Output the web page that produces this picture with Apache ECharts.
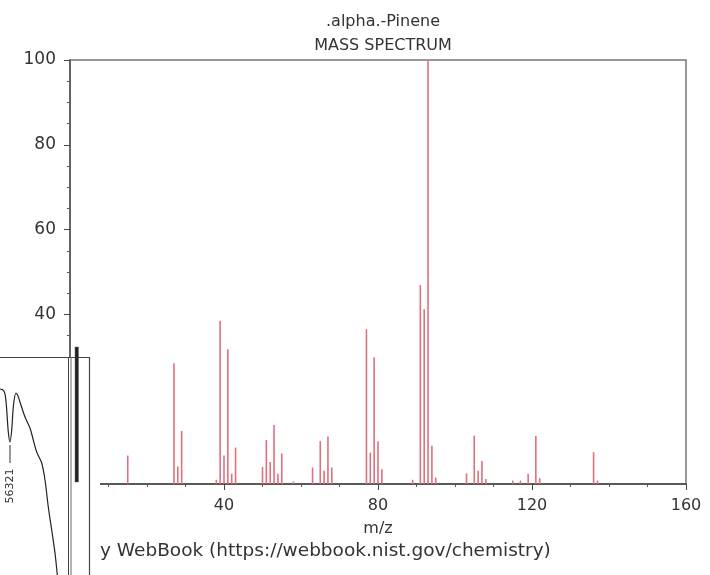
<!DOCTYPE html>
<html>
<head>
<meta charset="utf-8">
<script src="https://cdn.jsdelivr.net/npm/echarts@6/dist/echarts.min.js"></script>
<style>
html,body{margin:0;padding:0;background:#fff;}
#chart{width:710px;height:575px;}
</style>
</head>
<body>
<div id="chart"></div>
<script>
// Mass spectrum data (m/z, relative abundance)
const mz = [15,27,28,29,38,39,40,41,42,43,50,51,52,53,54,55,58,63,65,66,67,68,77,78,79,80,81,89,91,92,93,94,95,103,105,106,107,108,115,117,119,121,122,136,137];
const abundance = [6.7,28.5,4.1,12.5,1,38.5,6.7,31.8,2.4,8.6,4,10.4,5.2,13.9,2.4,7.2,0.6,3.9,10.1,3.1,11.2,3.9,36.5,7.4,29.9,10.1,3.5,1,46.9,41.2,100,9,1.5,2.5,11.4,3.1,5.4,1.2,0.8,0.8,2.4,11.3,1.4,7.5,0.8];
const xTicks = [0,40,80,120,160];
const yTicks = [0,20,40,60,80,100];

// Overlaid inset trace (arbitrary inset units)
const insetX = [0,3,5,6.5,8.3,10,11.7,13.5,16,18,20,25,30,33.3,36.7,41.7,45,48.3,51.7,55,57.3];
const insetY = [32,33,37,50,75,85,73,48,36,39,45,60,71,83,95,106,123,150,173,196,218];
const insetLabel = '56321';

const chart = echarts.init(document.getElementById('chart'));
const font = 'DejaVu Sans, sans-serif';

chart.setOption({
  animation: false,
  backgroundColor: '#fff',
  title: [
    {text: '.alpha.-Pinene', left: 378, top: 9, textAlign: 'center',
     textStyle: {fontFamily: font, fontSize: 16, fontWeight: 'normal', color: '#333'}},
    {text: 'MASS SPECTRUM', left: 378, top: 33, textAlign: 'center',
     textStyle: {fontFamily: font, fontSize: 16, fontWeight: 'normal', color: '#333'}}
  ],
  grid: [
    {left: 70, top: 60, width: 616, height: 424, show: true, borderColor: '#777', borderWidth: 1.5, backgroundColor: 'transparent'},
    {left: 0, top: 357, width: 89, height: 218, show: false}
  ],
  xAxis: [
    {type: 'value', gridIndex: 0, min: 0, max: 160, interval: 40,
     name: 'm/z', nameLocation: 'middle', nameGap: 37,
     nameTextStyle: {fontFamily: font, fontSize: 16, color: '#333'},
     axisLine: {show: true, onZero: false, lineStyle: {color: '#444', width: 1.5}},
     axisTick: {show: true, length: 6, lineStyle: {color: '#444'}},
     minorTick: {show: true, splitNumber: 4, length: 3, lineStyle: {color: '#555'}},
     splitLine: {show: false},
     axisLabel: {margin: 14, fontFamily: font, fontSize: 16, color: '#333',
       formatter: v => xTicks.includes(v) ? String(v) : ''}},
    {type: 'value', gridIndex: 1, min: 0, max: 89, show: false}
  ],
  yAxis: [
    {type: 'value', gridIndex: 0, min: 0, max: 100, interval: 20,
     axisLine: {show: true, lineStyle: {color: '#555', width: 1.5}},
     axisTick: {show: true, length: 6, lineStyle: {color: '#444'}},
     minorTick: {show: true, splitNumber: 4, length: 3, lineStyle: {color: '#555'}},
     splitLine: {show: false},
     axisLabel: {margin: 14, fontFamily: font, fontSize: 17, color: '#333',
       formatter: v => yTicks.includes(v) ? String(v) : ''}},
    {type: 'value', gridIndex: 1, min: 0, max: 218, inverse: true, show: false}
  ],
  series: [
    {type: 'bar', xAxisIndex: 0, yAxisIndex: 0, barWidth: 1.6,
     itemStyle: {color: '#e0707c'},
     data: mz.map((m, i) => [m, abundance[i]]), z: 3},
    {type: 'line', xAxisIndex: 1, yAxisIndex: 1, showSymbol: false, smooth: 0.3,
     lineStyle: {color: '#222', width: 1.2}, z: 100,
     data: insetX.map((x, i) => [x, insetY[i]])}
  ],
  graphic: [
    {type: 'text', left: 100, top: 542, z: 10,
     style: {text: 'y WebBook (https://webbook.nist.gov/chemistry)', font: '18.5px DejaVu Sans', fill: '#333'}},
    {type: 'rect', shape: {x: 0, y: 357, width: 100, height: 218}, style: {fill: '#fff'}, z: 50},
    {type: 'line', shape: {x1: 0, y1: 357.5, x2: 89, y2: 357.5}, style: {stroke: '#444', lineWidth: 1.2}, z: 60},
    {type: 'line', shape: {x1: 89.5, y1: 357, x2: 89.5, y2: 575}, style: {stroke: '#444', lineWidth: 1.2}, z: 60},
    {type: 'line', shape: {x1: 68.5, y1: 357, x2: 68.5, y2: 575}, style: {stroke: '#444', lineWidth: 1}, z: 60},
    {type: 'line', shape: {x1: 71, y1: 357, x2: 71, y2: 575}, style: {stroke: '#666', lineWidth: 1}, z: 60},
    {type: 'rect', shape: {x: 75, y: 347, width: 3.5, height: 135}, style: {fill: '#222', stroke: '#666', lineWidth: 0.5}, z: 60},
    {type: 'line', shape: {x1: 10, y1: 445, x2: 10, y2: 463}, style: {stroke: '#333', lineWidth: 1}, z: 60},
    {type: 'text', x: 10, y: 486, rotation: Math.PI / 2, z: 60,
     style: {text: insetLabel, font: '11px DejaVu Sans', fill: '#333', textAlign: 'center', textVerticalAlign: 'middle'}}
  ]
});
</script>
</body>
</html>
